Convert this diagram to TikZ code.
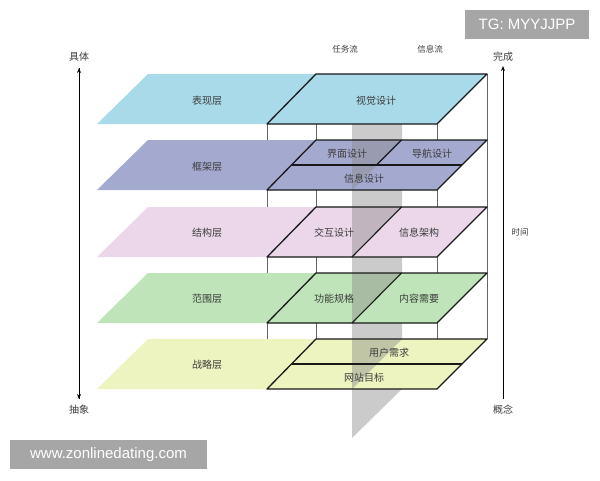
\documentclass[tikz,border=0pt]{standalone}
\usepackage{fontspec}
\newfontfamily\cjk{Noto Sans CJK SC}
\newfontfamily\latn{Liberation Sans}
\usepackage{tikz}
\usetikzlibrary{arrows.meta}

\definecolor{cyanband}{RGB}{168,218,233}
\definecolor{blueband}{RGB}{164,169,207}
\definecolor{pinkband}{RGB}{235,215,233}
\definecolor{greenband}{RGB}{191,228,185}
\definecolor{yellowband}{RGB}{238,244,192}
\definecolor{txt}{RGB}{60,60,60}
\definecolor{wmark}{RGB}{166,166,166}

\begin{document}
\begin{tikzpicture}[x=1pt,y=-1pt]
\tikzset{layertext/.style = {font=\cjk\fontsize{10}{12}\selectfont, text=txt, inner sep=0pt}}
\tikzset{axistext/.style = {font=\cjk\fontsize{10}{12}\selectfont, text=txt, inner sep=0pt}}
\tikzset{flowtext/.style = {font=\cjk\fontsize{8.5}{10}\selectfont, text=txt, inner sep=0pt}}
\tikzset{pillar/.style = {draw=black!60, line width=0.7pt}}
\tikzset{plane/.style = {draw=black!90, line width=1.3pt, line join=round}}
\tikzset{divider/.style = {draw=black!90, line width=1.1pt}}
\tikzset{flow/.style = {fill=black!45, fill opacity=0.45}}
\tikzset{axis/.style = {line width=0.9pt, -{Stealth[length=5pt,width=4pt]}}}
\tikzset{wbox/.style = {fill=wmark, text=white, font=\latn\fontsize{15}{17}\selectfont, inner xsep=6pt, inner ysep=5pt}}
\useasboundingbox (0,0) rectangle (600,480);

% pillars of the box
\draw[pillar] (267,124) -- (267,389);
\draw[pillar] (316,74) -- (316,339);
\draw[pillar] (437,124) -- (437,389);
\draw[pillar] (487,74) -- (487,339);

% flow strip
\fill[flow] (352,124) -- (402,74) -- (402,389) -- (352,438) -- cycle;

% bands
\fill[cyanband] (97,124) -- (437,124) -- (487,74) -- (148,74) -- cycle;
\fill[blueband] (97,190) -- (437,190) -- (487,140) -- (148,140) -- cycle;
\fill[pinkband] (97,257) -- (437,257) -- (487,207) -- (148,207) -- cycle;
\fill[greenband] (97,323) -- (437,323) -- (487,273) -- (148,273) -- cycle;
\fill[yellowband] (97,389) -- (437,389) -- (487,339) -- (148,339) -- cycle;

% flow strip over the bands
\fill[flow] (352,140) -- (402,140) -- (352,190) -- cycle;
\fill[flow] (352,207) -- (402,207) -- (352,257) -- cycle;
\fill[flow] (352,273) -- (402,273) -- (352,323) -- cycle;
\fill[flow] (352,339) -- (402,339) -- (352,389) -- cycle;

% planes in the box
\draw[plane] (267,124) -- (437,124) -- (487,74) -- (316,74) -- cycle;
\draw[plane] (267,190) -- (437,190) -- (487,140) -- (316,140) -- cycle;
\draw[plane] (267,257) -- (437,257) -- (487,207) -- (316,207) -- cycle;
\draw[plane] (267,323) -- (437,323) -- (487,273) -- (316,273) -- cycle;
\draw[plane] (267,389) -- (437,389) -- (487,339) -- (316,339) -- cycle;

% dividers
\draw[divider] (291.5,165) -- (461.5,165);
\draw[divider] (376.5,165) -- (401.5,140);
\draw[divider] (352,257) -- (401.5,207);
\draw[divider] (352,323) -- (401.5,273);
\draw[divider] (291.5,364) -- (461.5,364);

% layer names
\node[layertext] (surface) at (207,101) {表现层};
\node[layertext] (skeleton) at (207,167) {框架层};
\node[layertext] (structure) at (207,233) {结构层};
\node[layertext] (scope) at (207,299) {范围层};
\node[layertext] (strategy) at (207,365) {战略层};

% box labels
\node[layertext] (visual) at (376,101) {视觉设计};
\node[layertext] (iface) at (347,154) {界面设计};
\node[layertext] (navi) at (432,154) {导航设计};
\node[layertext] (infodes) at (364,179) {信息设计};
\node[layertext] (interact) at (334,233) {交互设计};
\node[layertext] (infoarch) at (419,233) {信息架构};
\node[layertext] (funcspec) at (334,299) {功能规格};
\node[layertext] (content) at (419,299) {内容需要};
\node[layertext] (userneed) at (389,353) {用户需求};
\node[layertext] (siteobj) at (364,378) {网站目标};

% flows
\node[flowtext] (task) at (345,49) {任务流};
\node[flowtext] (info) at (430,49) {信息流};

% axes
\node[axistext] (concrete) at (79,57) {具体};
\node[axistext] (abstract) at (79,410) {抽象};
\node[axistext] (done) at (503,57) {完成};
\node[axistext] (concept) at (503,410) {概念};
\node[flowtext] (time) at (520,232) {时间};
\coordinate (ltop) at (79,68);
\coordinate (lbot) at (79,399);
\coordinate (rtop) at (503,66);
\coordinate (rbot) at (503,399);
\draw[axis] (lbot) -- (ltop);
\draw[axis] (ltop) -- (lbot);
\draw[axis] (rbot) -- (rtop);

% marks
\node[wbox, minimum width=124pt, minimum height=29pt] (tg) at (527,24.5) {TG: MYYJJPP};
\node[wbox, minimum width=197pt, minimum height=29pt] (www) at (108.5,454.5) {www.zonlinedating.com};

\end{tikzpicture}
\end{document}
